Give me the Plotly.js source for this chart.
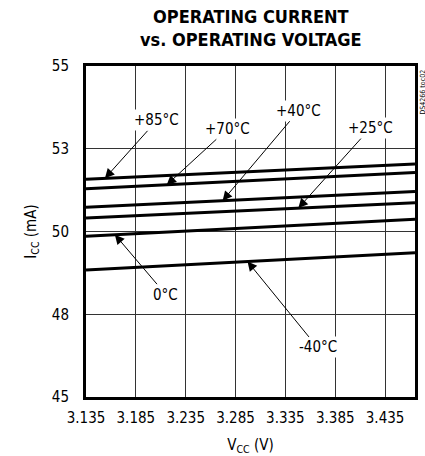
<!DOCTYPE html>
<html>
<head>
<meta charset="utf-8">
<script src="https://cdn.plot.ly/plotly-3.0.1.min.js"></script>
<style>html,body{margin:0;padding:0;background:#fff;}#chart{width:425px;height:456px;}</style>
</head>
<body>
<div id="chart"></div>
<script>
// Data
const vcc = [3.135, 3.465];
const seriesNames = ['+85°C', '+70°C', '+40°C', '+25°C', '0°C', '-40°C'];
const icc85 = [51.58, 52.04];
const icc70 = [51.29, 51.78];
const icc40 = [50.73, 51.21];
const icc25 = [50.41, 50.87];
const icc0 = [49.86, 50.37];
const iccM40 = [48.84, 49.36];
const xTickVals = [3.135, 3.185, 3.235, 3.285, 3.335, 3.385, 3.435];
const xTickText = ['3.135', '3.185', '3.235', '3.285', '3.335', '3.385', '3.435'];
const yTickVals = [45, 47.5, 50, 52.5, 55];
const yTickText = ['45', '48', '50', '53', '55'];

const allSeries = [icc85, icc70, icc40, icc25, icc0, iccM40];
const FONT = '"DejaVu Sans Condensed", "Liberation Sans Narrow", "Roboto", sans-serif';

const traces = allSeries.map((ys, i) => ({
  x: vcc, y: ys, type: 'scatter', mode: 'lines', name: seriesNames[i],
  line: {color: '#000', width: 3}, hoverinfo: 'skip'
}));

function lineAt(ys, x) {
  return ys[0] + (ys[1] - ys[0]) * (x - vcc[0]) / (vcc[1] - vcc[0]);
}

// label positions: arrow head x on curve, text offsets in px
const labelSpec = [
  {s: 0, x: 3.154, ax: 52, ay: -58},
  {s: 1, x: 3.216, ax: 61, ay: -56},
  {s: 2, x: 3.272, ax: 76, ay: -90},
  {s: 3, x: 3.348, ax: 72, ay: -80},
  {s: 4, x: 3.164, ax: 51, ay: 60},
  {s: 5, x: 3.297, ax: 70, ay: 86}
];

const annotations = labelSpec.map(l => ({
  x: l.x, y: lineAt(allSeries[l.s], l.x), xref: 'x', yref: 'y',
  text: seriesNames[l.s], showarrow: true, arrowhead: 2, arrowsize: 1.9, arrowwidth: 1,
  arrowcolor: '#000', ax: l.ax, ay: l.ay, bgcolor: '#fff', borderpad: 1,
  font: {family: FONT, size: 15, color: '#000'}
}));

annotations.push({
  xref: 'paper', yref: 'paper', x: 1.0, y: 1.0, xanchor: 'left', yanchor: 'top',
  xshift: 1, yshift: -2, text: 'DS4266 toc02', textangle: -90, showarrow: false,
  font: {family: FONT, size: 7, color: '#000'}
});

annotations.push({
  xref: 'paper', yref: 'paper', x: 0.5, y: 1.0, xanchor: 'center', yanchor: 'bottom',
  yshift: 14, showarrow: false,
  text: '<b>OPERATING CURRENT<br>vs. OPERATING VOLTAGE</b>',
  font: {family: FONT, size: 18, color: '#000'}
});

const layout = {
  width: 425, height: 456,
  margin: {l: 86, r: 10, t: 66, b: 59},
  paper_bgcolor: '#fff', plot_bgcolor: '#fff',
  showlegend: false,
  xaxis: {
    range: [3.135, 3.465], tickvals: xTickVals, ticktext: xTickText,
    showgrid: true, gridcolor: '#333', gridwidth: 1, zeroline: false,
    showline: true, mirror: true, linecolor: '#000', linewidth: 3,
    ticks: '', ticklabelstandoff: 5,
    tickfont: {family: FONT, size: 15, color: '#000'},
    title: {text: 'V<sub>CC</sub> (V)', standoff: 14, font: {family: FONT, size: 15, color: '#000'}}
  },
  yaxis: {
    range: [45, 55], tickvals: yTickVals, ticktext: yTickText,
    showgrid: true, gridcolor: '#333', gridwidth: 1, zeroline: false,
    showline: true, mirror: true, linecolor: '#000', linewidth: 3,
    ticks: '', ticklabelstandoff: 11,
    tickfont: {family: FONT, size: 15, color: '#000'},
    title: {text: 'I<sub>CC</sub> (mA)', standoff: 12, font: {family: FONT, size: 15, color: '#000'}}
  },
  annotations: annotations
};

Plotly.newPlot('chart', traces, layout, {staticPlot: true, displayModeBar: false});
</script>
</body>
</html>
